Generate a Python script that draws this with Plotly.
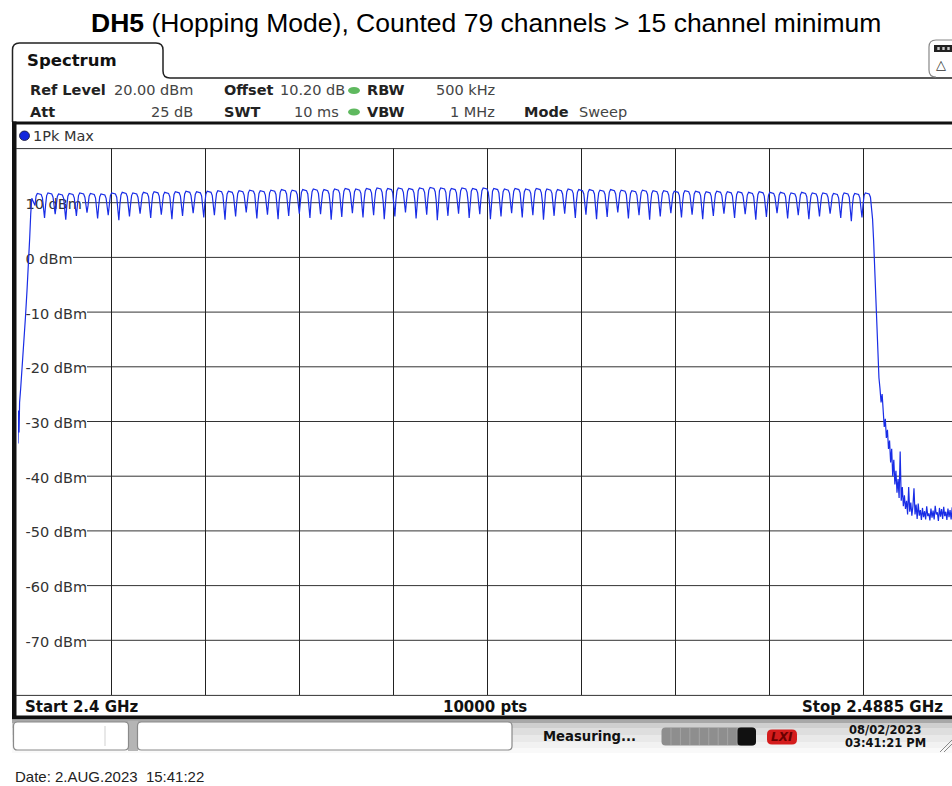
import plotly.graph_objects as go

# ---------------- data ----------------
channel_mhz = [2402, 2403, 2404, 2405, 2406, 2407, 2408, 2409, 2410, 2411,
               2412, 2413, 2414, 2415, 2416, 2417, 2418, 2419, 2420, 2421,
               2422, 2423, 2424, 2425, 2426, 2427, 2428, 2429, 2430, 2431,
               2432, 2433, 2434, 2435, 2436, 2437, 2438, 2439, 2440, 2441,
               2442, 2443, 2444, 2445, 2446, 2447, 2448, 2449, 2450, 2451,
               2452, 2453, 2454, 2455, 2456, 2457, 2458, 2459, 2460, 2461,
               2462, 2463, 2464, 2465, 2466, 2467, 2468, 2469, 2470, 2471,
               2472, 2473, 2474, 2475, 2476, 2477, 2478, 2479, 2480]

peak_dbm = [11.7, 11.8, 11.6, 11.7, 11.8, 11.7, 11.6, 11.8, 11.9, 11.8,
            11.9, 12.0, 11.9, 12.0, 12.1, 12.0, 12.1, 12.2, 12.1, 12.2,
            12.3, 12.2, 12.3, 12.4, 12.3, 12.4, 12.5, 12.4, 12.5, 12.6,
            12.5, 12.6, 12.7, 12.6, 12.7, 12.6, 12.7, 12.8, 12.7, 12.6,
            12.7, 12.6, 12.7, 12.6, 12.5, 12.6, 12.5, 12.6, 12.5, 12.4,
            12.5, 12.4, 12.4, 12.3, 12.4, 12.3, 12.2, 12.3, 12.2, 12.2,
            12.1, 12.2, 12.1, 12.0, 12.1, 12.0, 12.0, 11.9, 12.0, 11.9,
            11.9, 11.8, 11.9, 11.8, 11.8, 11.7, 11.8, 11.7, 11.8]

dip_dbm = [7.2, 7.9, 6.9, 7.6, 8.2, 7.1, 7.7, 6.8, 7.5, 8.0,
           7.2, 7.8, 7.0, 7.6, 8.1, 7.3, 7.7, 6.9, 7.5, 8.2,
           7.1, 7.8, 7.0, 7.6, 8.0, 7.2, 7.9, 6.9, 7.4, 8.1,
           7.3, 7.7, 7.0, 7.5, 8.2, 7.1, 7.8, 6.8, 7.6, 8.0,
           7.2, 7.9, 7.0, 7.5, 8.1, 7.3, 7.7, 6.9, 7.6, 8.0,
           7.2, 7.8, 7.0, 7.4, 8.2, 7.1, 7.7, 6.9, 7.5, 8.1,
           7.3, 7.8, 7.0, 7.6, 8.0, 7.2, 7.9, 6.9, 7.4, 8.1,
           7.1, 7.7, 7.0, 7.5, 8.0, 7.2, 6.6, 7.3]

bump_offset_mhz = [-0.40, -0.30, -0.18, 0.18, 0.30, 0.40]
bump_rel_db = [-2.2, -0.5, 0.0, -0.2, -0.8, -2.5]

rise_mhz = [2400.0, 2400.05, 2400.1, 2400.15, 2400.25, 2400.4, 2400.55,
            2400.7, 2400.85, 2401.0, 2401.1, 2401.2, 2401.3]
rise_dbm = [-34.0, -28.0, -32.0, -26.5, -24.0, -20.0, -16.0,
            -11.0, -6.0, -1.0, 3.5, 8.0, 10.8]

tail_mhz = [2480.5, 2480.6, 2480.7, 2480.8, 2480.9, 2481.0, 2481.1, 2481.2,
            2481.3, 2481.4, 2481.5, 2481.6, 2481.7, 2481.8, 2481.9, 2482.0,
            2482.1, 2482.2, 2482.3, 2482.4, 2482.5, 2482.6, 2482.7, 2482.8,
            2482.9, 2483.0, 2483.1, 2483.2, 2483.3, 2483.4, 2483.5, 2483.6,
            2483.7, 2483.8, 2483.9, 2484.0, 2484.1, 2484.2, 2484.3, 2484.4,
            2484.5, 2484.6, 2484.7, 2484.8, 2484.9, 2485.0, 2485.1, 2485.2,
            2485.3, 2485.4, 2485.5, 2485.6, 2485.7, 2485.8, 2485.9, 2486.0,
            2486.1, 2486.2, 2486.3, 2486.4, 2486.5, 2486.6, 2486.7, 2486.8,
            2486.9, 2487.0, 2487.1, 2487.2, 2487.3, 2487.4, 2487.5, 2487.6,
            2487.7, 2487.8, 2487.9, 2488.0]
tail_dbm = [7.0, 3.0, -2.0, -8.0, -13.0, -18.0, -22.0, -24.0,
            -26.5, -25.0, -28.5, -31.0, -29.5, -33.0, -31.5, -35.0,
            -33.5, -37.5, -35.0, -40.0, -37.0, -41.5, -39.0, -43.0,
            -40.5, -44.0, -35.5, -44.5, -42.0, -45.5, -43.5, -46.0,
            -44.5, -47.0, -42.0, -46.5, -44.8, -47.2, -45.5, -42.2,
            -47.0, -45.2, -47.8, -45.0, -47.2, -46.2, -48.0, -45.8,
            -47.5, -46.4, -47.9, -45.5, -47.3, -46.8, -48.1, -45.9,
            -47.6, -46.3, -47.9, -45.4, -47.0, -46.6, -48.2, -45.8,
            -47.4, -46.0, -47.8, -45.6, -47.3, -46.5, -48.0, -45.9,
            -47.5, -46.2, -47.9, -45.7]

y_tick_vals = [10, 0, -10, -20, -30, -40, -50, -60, -70]
y_tick_text = ["10 dBm", "0 dBm", "-10 dBm", "-20 dBm", "-30 dBm",
               "-40 dBm", "-50 dBm", "-60 dBm", "-70 dBm"]

start_mhz = 2400.0
stop_mhz = 2488.5

# ---------------- build the trace ----------------
xs = list(rise_mhz)
ys = list(rise_dbm)
for i, (f, p) in enumerate(zip(channel_mhz, peak_dbm)):
    if i > 0:
        xs.append(f - 0.5)
        ys.append(dip_dbm[i - 1])
    for off, rel in zip(bump_offset_mhz, bump_rel_db):
        xs.append(f + off)
        ys.append(p + rel)
xs += tail_mhz
ys += tail_dbm

# ---------------- geometry ----------------
FW, FH = 952, 786
L, R, T, B = 18, 0, 148, 91
PW = FW - L - R
PH = FH - T - B
FULL_W = 939.5  # full grid width in px (screen is cropped on the right)
x_end = start_mhz + (stop_mhz - start_mhz) * PW / FULL_W


def px(x):
    return (x - L) / PW


def py(y):
    return (FH - B - y) / PH


UI = "DejaVu Sans"
ARIAL = "Liberation Sans, Arial"

fig = go.Figure()
fig.add_trace(go.Scatter(x=xs, y=ys, mode="lines",
                         line=dict(color="rgb(25,45,230)", width=1.2),
                         hoverinfo="skip", showlegend=False))

shapes = []
ann = []


def rect(x0, y0, x1, y1, fill, line_color=None, lw=0, layer="above"):
    shapes.append(dict(type="rect", xref="paper", yref="paper",
                       x0=px(x0), x1=px(x1), y0=py(y1), y1=py(y0),
                       fillcolor=fill, layer=layer,
                       line=dict(color=line_color or fill, width=lw)))


def hline(x0, x1, y, color, w):
    shapes.append(dict(type="line", xref="paper", yref="paper",
                       x0=px(x0), x1=px(x1), y0=py(y), y1=py(y),
                       line=dict(color=color, width=w)))


def vline(x, y0, y1, color, w):
    shapes.append(dict(type="line", xref="paper", yref="paper",
                       x0=px(x), x1=px(x), y0=py(y0), y1=py(y1),
                       line=dict(color=color, width=w)))


def text(t, x, y, size, color="#222", family=UI, xanchor="left", bold=False,
         yref="paper"):
    if bold:
        t = "<b>" + t + "</b>"
    ann.append(dict(text=t, x=px(x), y=py(y) if yref == "paper" else y,
                    xref="paper", yref=yref,
                    xanchor=xanchor, yanchor="middle", showarrow=False,
                    font=dict(family=family, size=size, color=color)))


def path(points):
    return " ".join(points)


def P(cmd, *xy):
    pts = []
    for i in range(0, len(xy), 2):
        pts.append(f"{px(xy[i]):.5f},{py(xy[i+1]):.5f}")
    return cmd + " " + " ".join(pts)


# title
text("<b>DH5</b> (Hopping Mode), Counted 79 channels > 15 channel minimum",
     486, 23, 26.5, color="#000", family=ARIAL, xanchor="center")

# tab outline
tab = path([P("M", 12.5, 122), P("L", 12.5, 50), P("Q", 12.5, 43, 19.5, 43),
            P("L", 156, 43), P("Q", 163, 43, 163, 50), P("L", 163, 71),
            P("Q", 163, 78, 170, 78), P("L", 952, 78)])
shapes.append(dict(type="path", xref="paper", yref="paper", path=tab,
                   line=dict(color="#222", width=1.5)))
text("Spectrum", 25, 61, 16.5, color="#111", bold=True)

# top-right icon
icon = path([P("M", 952, 40), P("L", 936, 40), P("Q", 929, 40, 929, 47),
             P("L", 929, 70), P("Q", 929, 77, 936, 77)])
shapes.append(dict(type="path", xref="paper", yref="paper", path=icon,
                   line=dict(color="#888", width=1.2)))
rect(934, 45, 952, 52, "#222")
for xx in (938.5, 943.5, 948.5):
    rect(xx - 1.2, 47, xx + 1.2, 50, "#ccc")
text("△", 940.5, 64, 13, color="#333", xanchor="center")

# header info
row1, row2 = 90.5, 112
text("Ref Level", 28, row1, 14.5, bold=True)
text("20.00 dBm", 195, row1, 14.5, color="#444", xanchor="right")
text("Offset", 222, row1, 14.5, bold=True)
text("10.20 dB", 347, row1, 14.5, color="#444", xanchor="right")
text("RBW", 365, row1, 14.5, bold=True)
text("500 kHz", 497, row1, 14.5, color="#444", xanchor="right")
text("Att", 28, row2, 14.5, bold=True)
text("25 dB", 195, row2, 14.5, color="#444", xanchor="right")
text("SWT", 222, row2, 14.5, bold=True)
text("10 ms", 341, row2, 14.5, color="#444", xanchor="right")
text("VBW", 365, row2, 14.5, bold=True)
text("1 MHz", 497, row2, 14.5, color="#444", xanchor="right")
text("Mode", 522, row2, 14.5, bold=True)
text("Sweep", 577, row2, 14.5, color="#444")
for yy in (row1, row2):
    shapes.append(dict(type="circle", xref="paper", yref="paper",
                       x0=px(348), x1=px(360), y0=py(yy + 3.5), y1=py(yy - 3.5),
                       fillcolor="rgb(95,185,95)", line=dict(width=0)))

# frame
rect(12, 121.5, 952, 124.5, "#111")
rect(12, 121.5, 16.5, 718, "#111")
rect(12, 715.5, 952, 719.5, "#111")
hline(16, 952, 148.6, "#333", 1)
hline(16, 952, 695.4, "#333", 1)

# trace label row
shapes.append(dict(type="circle", xref="paper", yref="paper",
                   x0=px(19.5), x1=px(29.5), y0=py(140.5), y1=py(131),
                   fillcolor="rgb(20,40,220)", line=dict(color="#113", width=0.8)))
text("1Pk Max", 31, 135.5, 14.5, color="#333")

# horizontal grid lines (start after the in-plot level labels) + labels,
# both drawn beneath the trace
lab_w = {"10 dBm": 62, "0 dBm": 53}
for v, t in zip(y_tick_vals, y_tick_text):
    w = lab_w.get(t, 67)
    shapes.append(dict(type="line", xref="paper", yref="y",
                       x0=px(20 + w), x1=px(952), y0=v, y1=v,
                       line=dict(color="#333", width=1), layer="below"))
    shapes.append(dict(type="rect", xref="paper", yref="y",
                       x0=px(19.5), x1=px(20 + w), y0=v - 1.3, y1=v + 1.3,
                       fillcolor="rgba(0,0,0,0)", line=dict(width=0),
                       layer="below",
                       label=dict(text=t, textposition="middle left",
                                  padding=3,
                                  font=dict(family=UI, size=14.5, color="#333"))))

# bottom strip
text("Start 2.4 GHz", 23, 706.5, 15, color="#111", bold=True)
text("10000 pts", 485, 706.5, 15, color="#111", xanchor="center", bold=True)
text("Stop 2.4885 GHz", 945, 706.5, 15, color="#111", xanchor="right", bold=True)

# status bar background
bands = [(719.5, 723, "#a8a8a8"), (723, 728, "#cfcfcf"), (728, 735, "#dedede"),
         (735, 742, "#e9e9e9"), (742, 748, "#f2f2f2"), (748, 753, "#f9f9f9")]
for y0, y1, c in bands:
    rect(12, y0, 952, y1, c)
rect(128, 721, 138, 751, "#b5b5b5")


def rbox(x0, y0, x1, y1, r=4):
    return path([P("M", x0 + r, y0), P("L", x1 - r, y0), P("Q", x1, y0, x1, y0 + r),
                 P("L", x1, y1 - r), P("Q", x1, y1, x1 - r, y1),
                 P("L", x0 + r, y1), P("Q", x0, y1, x0, y1 - r),
                 P("L", x0, y0 + r), P("Q", x0, y0, x0 + r, y0), "Z"])


for (x0, x1) in ((13.5, 128.5), (137.5, 512)):
    shapes.append(dict(type="path", xref="paper", yref="paper",
                       path=rbox(x0, 722, x1, 750), fillcolor="white",
                       line=dict(color="#8a8a8a", width=1.2)))
vline(105, 726, 746, "#e0e0e0", 1.5)

text("Measuring...", 541, 736.5, 13.2, color="#111", bold=True)
# progress bar
shapes.append(dict(type="path", xref="paper", yref="paper",
                   path=rbox(661.5, 727.5, 756, 745.5, r=4),
                   fillcolor="#8e8e8e", line=dict(width=0)))
shapes.append(dict(type="path", xref="paper", yref="paper",
                   path=rbox(737, 727.5, 756, 745.5, r=4),
                   fillcolor="#111", line=dict(width=0)))
for k in range(1, 9):
    vline(661.5 + 9.45 * k, 728, 745, "#a9a9a9", 0.8)
# LXI logo
shapes.append(dict(type="path", xref="paper", yref="paper",
                   path=rbox(767, 729.5, 797, 744.5, r=5),
                   fillcolor="#d41c1c", line=dict(width=0)))
text("<i>LXI</i>", 782, 737, 12, color="#6a0000", xanchor="center", bold=True)
text("08/02/2023", 885, 730, 11.5, color="#111", xanchor="center", bold=True)
text("03:41:21 PM", 885, 742.5, 11.5, color="#111", xanchor="center", bold=True)
for d in (0, 4):
    shapes.append(dict(type="line", xref="paper", yref="paper",
                       x0=px(940 + d), y0=py(752), x1=px(952), y1=py(740 + d),
                       line=dict(color="#888", width=1)))

# footer date
text("Date: 2.AUG.2023&nbsp;&nbsp;15:41:22", 13, 776, 15, color="#222", family=ARIAL)

fig.update_layout(
    width=FW, height=FH,
    margin=dict(l=L, r=R, t=T, b=B, pad=0),
    paper_bgcolor="white", plot_bgcolor="white",
    showlegend=False,
    xaxis=dict(range=[start_mhz, x_end], tick0=start_mhz,
               dtick=(stop_mhz - start_mhz) / 10,
               showgrid=True, gridcolor="#222", gridwidth=1,
               showticklabels=False, ticks="", zeroline=False,
               showline=False, fixedrange=True),
    yaxis=dict(range=[-80, 20], tick0=-80, dtick=10,
               showgrid=False, showticklabels=False, ticks="",
               zeroline=False, showline=False, fixedrange=True),
    shapes=shapes,
    annotations=ann,
)

fig.write_html("out.html", config=dict(displayModeBar=False, staticPlot=True),
               post_script="document.body.style.margin='0px';"
                           "document.body.style.overflow='hidden';")
